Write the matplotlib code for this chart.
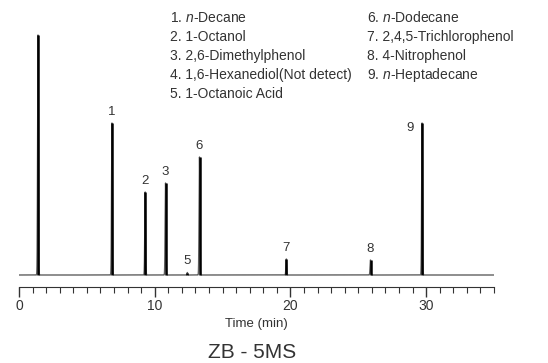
import numpy as np
import matplotlib.pyplot as plt
from matplotlib.transforms import blended_transform_factory

plt.rcParams["font.family"] = ["Liberation Sans", "DejaVu Sans"]
plt.rcParams["mathtext.fontset"] = "custom"
plt.rcParams["mathtext.it"] = "Liberation Sans:italic"
plt.rcParams["mathtext.rm"] = "Liberation Sans"

# retention time (min), peak height (arb.), peak label
rt = [1.4, 6.85, 9.3, 10.8, 12.4, 13.3, 19.7, 25.9, 29.7]
height = [240, 152, 83, 92, 2.5, 118, 16, 15, 152]
labels = ["", "1", "2", "3", "5", "6", "7", "8", "9"]

legend_left = ["1. $\\it{n}$-Decane", "2. 1-Octanol", "3. 2,6-Dimethylphenol",
               "4. 1,6-Hexanediol(Not detect)", "5. 1-Octanoic Acid"]
legend_right = ["6. $\\it{n}$-Dodecane", "7. 2,4,5-Trichlorophenol",
                "8. 4-Nitrophenol", "9. $\\it{n}$-Heptadecane"]

t = np.linspace(0, 35, 14001)
signal = np.zeros_like(t)
for r, h in zip(rt, height):
    signal += h * np.exp(-0.5 * ((t - r) / 0.03) ** 2)

fig = plt.figure(figsize=(5.48, 3.63), dpi=100)
ax = fig.add_axes([19 / 548, 76 / 363, 475 / 548, 257 / 363])
ax.plot(t, signal, color="#606060", linewidth=1.0)
ax.vlines(rt, 0, height, color="black", linewidth=1.8)

txt = "#333333"
for r, h, lab in zip(rt, height, labels):
    if lab == "9":
        ax.text(r - 0.9, h - 5, lab, ha="center", va="center", fontsize=9.5, color=txt)
    elif lab:
        ax.text(r, h + 5, lab, ha="center", va="bottom", fontsize=9.5, color=txt)

ax.set_xlim(0, 35)
ax.set_ylim(-12, 245)
for s in ["top", "left", "right"]:
    ax.spines[s].set_visible(False)
ax.spines["bottom"].set_color(txt)
ax.set_yticks([])
ax.set_xticks([0, 10, 20, 30])
ax.set_xticks(np.arange(0, 36, 1), minor=True)
ax.tick_params(axis="x", which="major", length=7, width=1.0, colors=txt, labelsize=10, pad=2)
ax.tick_params(axis="x", which="minor", length=4, width=0.8, colors=txt)
ax.set_xlabel("Time (min)", fontsize=9.5, color=txt, labelpad=3)

for i, s in enumerate(legend_left):
    fig.text(170 / 548, 1 - (18 + 19 * i) / 363, s, fontsize=10, color=txt, va="center")
for i, s in enumerate(legend_right):
    fig.text(367 / 548, 1 - (18 + 19 * i) / 363, s, fontsize=10, color=txt, va="center")

trans = blended_transform_factory(ax.transData, fig.transFigure)
ax.text(17.2, 1 - 352 / 363, "ZB - 5MS", fontsize=15, color=txt, ha="center", va="center",
        transform=trans)

fig.savefig("out.png", dpi=100)
